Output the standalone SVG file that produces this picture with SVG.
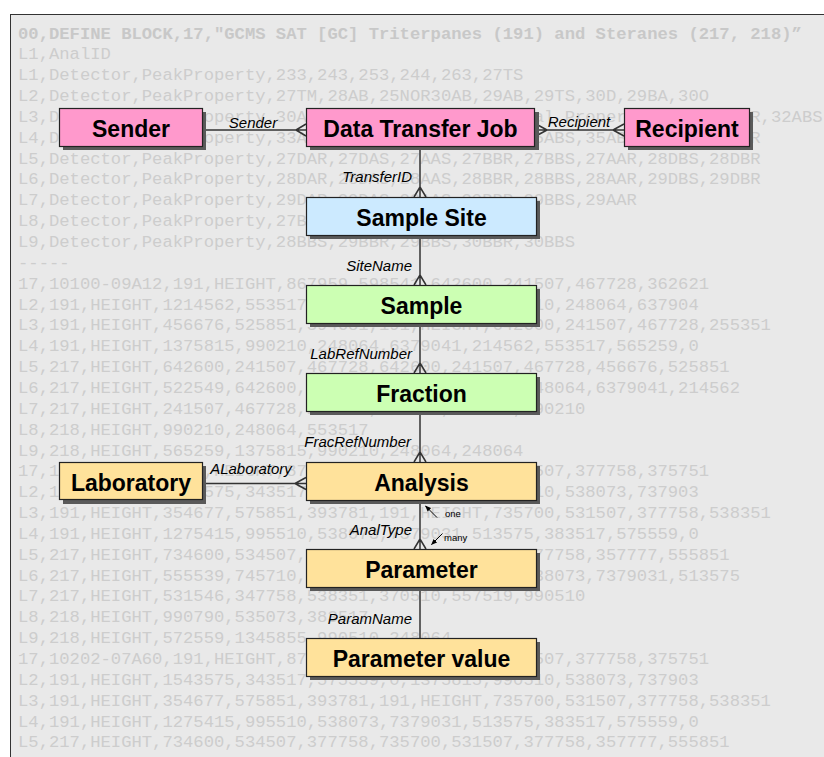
<svg xmlns="http://www.w3.org/2000/svg" width="824" height="757" viewBox="0 0 824 757">
<style>
.bg{font-family:"Liberation Mono","Courier New",monospace;font-size:17.2px;fill:#cdcdcd}
.hd{font-weight:bold;fill:#c8c8c8}
.box{stroke:#222;stroke-width:1.2}
.sh{fill:#5a5a5a}
.nt{font-family:"Liberation Sans",Arial,sans-serif;font-weight:bold;font-size:23px;fill:#000;text-anchor:middle}
.lbl{font-family:"Liberation Sans",Arial,sans-serif;font-style:italic;font-size:15px;fill:#000}
.sm{font-family:"Liberation Sans",Arial,sans-serif;font-size:9.5px;fill:#000}
.ln{stroke:#333;stroke-width:1.5;fill:none}
.pink{fill:#ff99cc}.blue{fill:#cceaff}.green{fill:#ccffb3}.yel{fill:#ffe29b}
</style>
<defs>
<marker id="ah" viewBox="0 0 10 10" refX="9" refY="5" markerWidth="6" markerHeight="6" orient="auto"><path d="M0,1 L10,5 L0,9 z" fill="#000"/></marker>
</defs>
<rect width="824" height="757" fill="#fff"/>
<rect x="10.5" y="14.5" width="830" height="760" fill="#e9e9e9" stroke="#333" stroke-width="1"/>
<g id="background-text">
<text class="bg" x="18" y="38.5" xml:space="preserve"><tspan class="hd">00,DEFINE BLOCK,17,"GCMS SAT [GC] Triterpanes (191) and Steranes (217, 218)”</tspan><tspan x="18" dy="20.85">L1,AnalID</tspan><tspan x="18" dy="20.85">L1,Detector,PeakProperty,233,243,253,244,263,27TS</tspan><tspan x="18" dy="20.85">L2,Detector,PeakProperty,27TM,28AB,25NOR30AB,29AB,29TS,30D,29BA,30O</tspan><tspan x="18" dy="20.85">L3,Detector,PeakProperty,30AB,30BA,31AB,31BA,Special Property,31AS,31ABR,32ABS</tspan><tspan x="18" dy="20.85">L4,Detector,PeakProperty,33ABS,33ABR,34ABS,34ABR,35ABS,35ABR,36ABS,36ABR</tspan><tspan x="18" dy="20.85">L5,Detector,PeakProperty,27DAR,27DAS,27AAS,27BBR,27BBS,27AAR,28DBS,28DBR</tspan><tspan x="18" dy="20.85">L6,Detector,PeakProperty,28DAR,28DAS,28AAS,28BBR,28BBS,28AAR,29DBS,29DBR</tspan><tspan x="18" dy="20.85">L7,Detector,PeakProperty,29DAR,29DAS,29AAS,29BBR,29BBS,29AAR</tspan><tspan x="18" dy="20.85">L8,Detector,PeakProperty,27BBR,28BBR,29BBR</tspan><tspan x="18" dy="20.85">L9,Detector,PeakProperty,28BBS,29BBR,29BBS,30BBR,30BBS</tspan><tspan x="18" dy="20.85">-----</tspan><tspan x="18" dy="20.85">17,10100-09A12,191,HEIGHT,867959,598541,642600,241507,467728,362621</tspan><tspan x="18" dy="20.85">L2,191,HEIGHT,1214562,553517,565259,0,1375815,990210,248064,637904</tspan><tspan x="18" dy="20.85">L3,191,HEIGHT,456676,525851,394681,191,HEIGHT,642600,241507,467728,255351</tspan><tspan x="18" dy="20.85">L4,191,HEIGHT,1375815,990210,248064,6379041,214562,553517,565259,0</tspan><tspan x="18" dy="20.85">L5,217,HEIGHT,642600,241507,467728,642600,241507,467728,456676,525851</tspan><tspan x="18" dy="20.85">L6,217,HEIGHT,522549,642600,241507,467728,990210,248064,6379041,214562</tspan><tspan x="18" dy="20.85">L7,217,HEIGHT,241507,467728,255351,990210,248064,990210</tspan><tspan x="18" dy="20.85">L8,218,HEIGHT,990210,248064,553517</tspan><tspan x="18" dy="20.85">L9,218,HEIGHT,565259,1375815,990210,248064,248064</tspan><tspan x="18" dy="20.85">17,10202-07A60,191,HEIGHT,875759,735700,575559,531507,377758,375751</tspan><tspan x="18" dy="20.85">L2,191,HEIGHT,1543575,343517,575559,0,1375815,990510,538073,737903</tspan><tspan x="18" dy="20.85">L3,191,HEIGHT,354677,575851,393781,191,HEIGHT,735700,531507,377758,538351</tspan><tspan x="18" dy="20.85">L4,191,HEIGHT,1275415,995510,538073,7379031,513575,383517,575559,0</tspan><tspan x="18" dy="20.85">L5,217,HEIGHT,734600,534507,377758,735700,531507,377758,357777,555851</tspan><tspan x="18" dy="20.85">L6,217,HEIGHT,555539,745710,375751,531507,377758,538073,7379031,513575</tspan><tspan x="18" dy="20.85">L7,217,HEIGHT,531546,347758,538351,370510,557519,990510</tspan><tspan x="18" dy="20.85">L8,218,HEIGHT,990790,535073,383517</tspan><tspan x="18" dy="20.85">L9,218,HEIGHT,572559,1345855,990510,248064</tspan><tspan x="18" dy="20.85">17,10202-07A60,191,HEIGHT,875759,735700,575559,531507,377758,375751</tspan><tspan x="18" dy="20.85">L2,191,HEIGHT,1543575,343517,575559,0,1375815,990510,538073,737903</tspan><tspan x="18" dy="20.85">L3,191,HEIGHT,354677,575851,393781,191,HEIGHT,735700,531507,377758,538351</tspan><tspan x="18" dy="20.85">L4,191,HEIGHT,1275415,995510,538073,7379031,513575,383517,575559,0</tspan><tspan x="18" dy="20.85">L5,217,HEIGHT,734600,534507,377758,735700,531507,377758,357777,555851</tspan></text>
</g>
<g id="connectors">
<path class="ln" d="M202,130 H306 M296,130 L306,124 M296,130 L306,136"/>
<path class="ln" d="M534,130 H624 M547,130 L536,124 M547,130 L536,136 M613,130 L624,124 M613,130 L624,136"/>
<path class="ln" d="M420,147 V197 M420,187 L414,197 M420,187 L426,197"/>
<path class="ln" d="M420,235 V285 M420,275 L414,285 M420,275 L426,285"/>
<path class="ln" d="M420,323 V373 M420,363 L414,373 M420,363 L426,373"/>
<path class="ln" d="M420,412 V462 M420,452 L414,462 M420,452 L426,462"/>
<path class="ln" d="M202,483.5 H306 M295,483.5 L306,477.5 M295,483.5 L306,489.5"/>
<path class="ln" d="M420,500 V549 M420,539 L414,549 M420,539 L426,549"/>
<path class="ln" d="M420,588 V638"/>
<line x1="437" y1="517.5" x2="425.5" y2="506" stroke="#000" stroke-width="1" marker-end="url(#ah)"/>
<line x1="442.5" y1="533.5" x2="431.5" y2="544.5" stroke="#000" stroke-width="1" marker-end="url(#ah)"/>
<text class="sm" x="445" y="517">one</text>
<text class="sm" x="444" y="541">many</text>
<text class="lbl" x="253" y="127.5" text-anchor="middle">Sender</text>
<text class="lbl" x="579" y="127" text-anchor="middle">Recipient</text>
<text class="lbl" x="412" y="182" text-anchor="end">TransferID</text>
<text class="lbl" x="412" y="270.5" text-anchor="end">SiteName</text>
<text class="lbl" x="412" y="359" text-anchor="end">LabRefNumber</text>
<text class="lbl" x="411" y="447" text-anchor="end">FracRefNumber</text>
<text class="lbl" x="251" y="474" text-anchor="middle">ALaboratory</text>
<text class="lbl" x="412" y="534.5" text-anchor="end">AnalType</text>
<text class="lbl" x="412" y="623.5" text-anchor="end">ParamName</text>
</g>
<g id="sender"><rect class="sh" x="63" y="112" width="143" height="38"/><rect class="box pink" x="59.5" y="108.5" width="143" height="38"/><text class="nt" x="131" y="137">Sender</text></g>
<g id="data-transfer-job"><rect class="sh" x="310" y="112" width="229" height="38"/><rect class="box pink" x="306.5" y="108.5" width="228" height="38"/><text class="nt" x="420.5" y="137">Data Transfer Job</text></g>
<g id="recipient"><rect class="sh" x="628" y="112" width="125" height="38"/><rect class="box pink" x="624.5" y="108.5" width="125" height="38"/><text class="nt" x="687" y="137">Recipient</text></g>
<g id="sample-site"><rect class="sh" x="310" y="201" width="230" height="38"/><rect class="box blue" x="306.5" y="197.5" width="230" height="38"/><text class="nt" x="421.5" y="226">Sample Site</text></g>
<g id="sample"><rect class="sh" x="310" y="289" width="230" height="38"/><rect class="box green" x="306.5" y="285.5" width="230" height="38"/><text class="nt" x="421.5" y="314">Sample</text></g>
<g id="fraction"><rect class="sh" x="310" y="377" width="230" height="38"/><rect class="box green" x="306.5" y="373.5" width="230" height="38"/><text class="nt" x="421.5" y="402">Fraction</text></g>
<g id="laboratory"><rect class="sh" x="63" y="466" width="143" height="38"/><rect class="box yel" x="59.5" y="462.5" width="143" height="37"/><text class="nt" x="131" y="490.5">Laboratory</text></g>
<g id="analysis"><rect class="sh" x="310" y="466" width="230" height="38"/><rect class="box yel" x="306.5" y="462.5" width="230" height="38"/><text class="nt" x="421.5" y="491">Analysis</text></g>
<g id="parameter"><rect class="sh" x="310" y="553" width="230" height="38"/><rect class="box yel" x="306.5" y="549.5" width="230" height="38"/><text class="nt" x="421.5" y="578">Parameter</text></g>
<g id="parameter-value"><rect class="sh" x="310" y="642" width="230" height="38"/><rect class="box yel" x="306.5" y="638.5" width="230" height="38"/><text class="nt" x="421.5" y="667">Parameter value</text></g>
</svg>
